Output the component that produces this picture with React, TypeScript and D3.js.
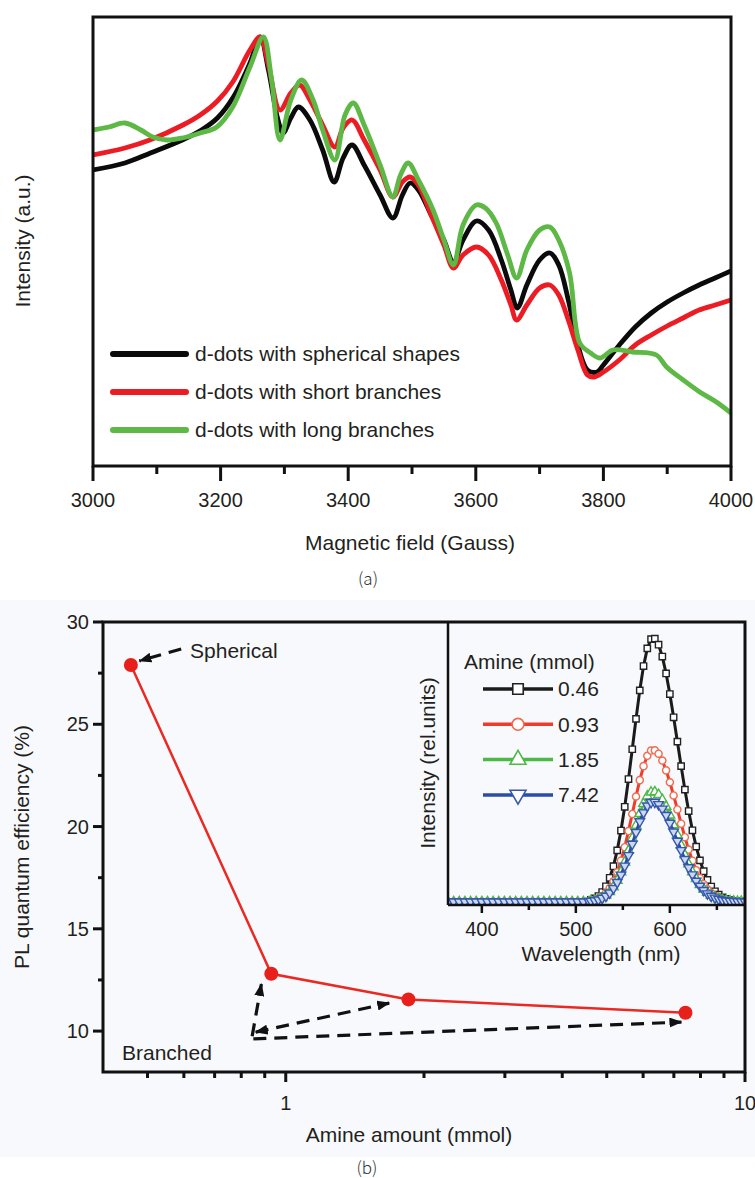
import { useEffect, useRef } from "react";
import * as d3 from "d3";

const WIDTH = 755;
const HEIGHT = 1178;
const SANS = "Arial, 'Liberation Sans', Helvetica, sans-serif";

// (a) EPR spectra, [field (Gauss), intensity (a.u.)]
const sphericalEpr: [number, number][] = [
  [3000, 296], [3050, 303], [3090, 313], [3140, 326], [3170, 336], [3195, 348], [3220, 369], [3246, 403], [3262, 429],
  [3275, 396], [3290, 346], [3298, 333], [3310, 348], [3322, 359], [3340, 346], [3360, 316], [3378, 284],
  [3392, 308], [3406, 321], [3425, 301], [3450, 271], [3470, 248], [3485, 271], [3497, 283], [3510, 276],
  [3530, 251], [3550, 226], [3565, 204], [3580, 226], [3601, 245], [3620, 236], [3640, 206], [3655, 176],
  [3665, 158], [3680, 181], [3700, 206], [3716, 213], [3730, 201], [3745, 166], [3760, 121], [3775, 96],
  [3790, 94], [3800, 101], [3825, 121], [3850, 139], [3875, 153], [3900, 164], [3925, 173], [3950, 181],
  [3975, 188], [4000, 195],
];
const shortBranchEpr: [number, number][] = [
  [3000, 311], [3050, 318], [3089, 326], [3141, 341], [3168, 351], [3195, 365], [3219, 384], [3246, 416], [3262, 429],
  [3275, 401], [3293, 356], [3310, 373], [3324, 381], [3340, 366], [3360, 341], [3379, 319], [3392, 338],
  [3406, 346], [3425, 326], [3450, 296], [3470, 269], [3485, 284], [3497, 289], [3510, 281], [3530, 251],
  [3550, 221], [3565, 198], [3580, 211], [3601, 219], [3620, 211], [3640, 186], [3655, 161], [3664, 146],
  [3680, 161], [3700, 178], [3716, 181], [3730, 171], [3745, 146], [3760, 116], [3775, 91], [3785, 89],
  [3800, 94], [3825, 106], [3850, 121], [3875, 131], [3900, 140], [3925, 148], [3950, 156], [3975, 161],
  [4000, 166],
];
const longBranchEpr: [number, number][] = [
  [3000, 336], [3025, 339], [3050, 343], [3075, 336], [3094, 329], [3116, 326], [3140, 328], [3168, 333],
  [3194, 339], [3219, 359], [3246, 399], [3267, 429], [3280, 386], [3293, 326], [3310, 366],
  [3327, 386], [3345, 366], [3360, 336], [3379, 306], [3395, 351], [3408, 363], [3425, 341], [3450, 301],
  [3470, 269], [3482, 291], [3494, 303], [3510, 286], [3533, 256], [3550, 226], [3565, 201], [3580, 241],
  [3601, 261], [3615, 258], [3632, 243], [3650, 211], [3664, 188], [3680, 216], [3700, 236], [3716, 239],
  [3730, 226], [3747, 193], [3763, 123], [3780, 113], [3795, 108], [3815, 116], [3846, 114], [3883, 111],
  [3899, 99], [3925, 86], [3951, 74], [3977, 64], [4000, 53],
];
const eprLegend = ["d-dots with spherical shapes", "d-dots with short branches", "d-dots with long branches"];
const eprColors = ["#0b0b0b", "#ec1c24", "#5db846"];
const fieldTicks = [3000, 3200, 3400, 3600, 3800, 4000];
const fieldMinorTicks = [3100, 3300, 3500, 3700, 3900];

// (b) PL quantum efficiency vs amine amount
const amineMmol = [0.46, 0.93, 1.85, 7.42];
const plQE = [27.9, 12.8, 11.55, 10.9];
const qeTicks = [10, 15, 20, 25, 30];
const qeMinorTicks = [12.5, 17.5, 22.5, 27.5];
const amineTicks = [1, 10];
const amineMinorTicks = [0.5, 0.6, 0.7, 0.8, 0.9, 2, 3, 4, 5, 6, 7, 8, 9];
// annotation arrows, [from, to] in data units
const sphericalArrow: [number, number][] = [[0.592, 28.68], [0.48, 28.1]];
const branchedArrows: [number, number][][] = [
  [[0.845, 9.75], [0.885, 12.3]],
  [[0.86, 9.95], [1.68, 11.37]],
  [[0.85, 9.62], [7.27, 10.44]],
];

// inset: PL spectra (rel. units)
const baselineNm = [364, 370, 376, 382, 388, 394, 400, 406, 412, 418, 424, 430, 436, 442, 448, 454, 460, 466, 472,
  478, 484, 490, 496, 502, 508, 514];
const insetNm = [516, 520, 524, 528, 532, 536, 540, 544, 548, 552, 556, 560, 564, 568, 572, 576, 580, 584, 588, 592,
  596, 600, 604, 608, 612, 616, 620, 624, 628, 632, 636, 640, 644, 648, 652, 656, 660, 664, 668, 672, 676, 680];
const pl046 = [0.007, 0.013, 0.022, 0.037, 0.059, 0.091, 0.135, 0.195, 0.27, 0.36, 0.465, 0.578, 0.693, 0.801, 0.893,
  0.96, 0.995, 0.997, 0.974, 0.929, 0.865, 0.787, 0.699, 0.607, 0.514, 0.425, 0.344, 0.271, 0.209, 0.157, 0.116, 0.083,
  0.058, 0.04, 0.027, 0.017, 0.011, 0.007, 0.004, 0.003, 0.002, 0.001];
const pl093 = [0.004, 0.007, 0.013, 0.021, 0.034, 0.052, 0.078, 0.112, 0.156, 0.207, 0.268, 0.333, 0.399, 0.461, 0.514,
  0.553, 0.573, 0.574, 0.561, 0.535, 0.498, 0.453, 0.403, 0.35, 0.296, 0.245, 0.198, 0.156, 0.12, 0.09, 0.067, 0.048,
  0.033, 0.023, 0.016, 0.01, 0.006, 0.004, 0.002, 0.002, 0.001, 0.001];
const pl185 = [0.003, 0.005, 0.009, 0.015, 0.025, 0.038, 0.056, 0.081, 0.113, 0.15, 0.194, 0.241, 0.289, 0.334, 0.372,
  0.4, 0.415, 0.416, 0.406, 0.387, 0.361, 0.328, 0.291, 0.253, 0.214, 0.177, 0.143, 0.113, 0.087, 0.065, 0.048, 0.035,
  0.024, 0.017, 0.011, 0.007, 0.005, 0.003, 0.002, 0.001, 0.001, 0];
const pl742 = [0.003, 0.005, 0.008, 0.014, 0.022, 0.034, 0.051, 0.074, 0.102, 0.136, 0.176, 0.219, 0.263, 0.304, 0.338,
  0.364, 0.377, 0.378, 0.369, 0.352, 0.328, 0.298, 0.265, 0.23, 0.195, 0.161, 0.13, 0.103, 0.079, 0.06, 0.044, 0.031,
  0.022, 0.015, 0.01, 0.006, 0.004, 0.003, 0.002, 0.001, 0.001, 0];
const insetLabels = ["0.46", "0.93", "1.85", "7.42"];
const nmTicks = [400, 500, 600];
const nmMinorTicks = [450, 550, 650];

export default function App() {
  const svgRef = useRef<SVGSVGElement | null>(null);

  useEffect(() => {
    if (!svgRef.current) return;
    const svg = d3.select(svgRef.current);
    svg.selectAll("*").remove();

    const defs = svg.append("defs");
    defs.append("marker").attr("id", "arrowHead").attr("viewBox", "0 0 13 10").attr("refX", 12).attr("refY", 5)
      .attr("markerWidth", 13).attr("markerHeight", 10).attr("markerUnits", "userSpaceOnUse")
      .attr("orient", "auto-start-reverse")
      .append("path").attr("d", "M0,0 L13,5 L0,10 z").attr("fill", "#111");

    const text = (g: any, x: number, y: number, str: string, size: number, anchor = "middle") =>
      g.append("text").attr("x", x).attr("y", y).attr("dy", "0.35em").attr("text-anchor", anchor)
        .style("font-family", SANS).style("font-size", `${size}px`).attr("fill", "#231f20").text(str);

    // ---------- (a) ----------
    const xA = d3.scaleLinear().domain([3000, 4000]).range([93, 731]);
    const yA = d3.scaleLinear().domain([0, 449]).range([466, 17]);
    const a = svg.append("g");
    defs.append("clipPath").attr("id", "clipA").append("rect").attr("x", 93).attr("y", 17).attr("width", 638).attr("height", 449);
    const lineA = d3.line<[number, number]>().x((d) => xA(d[0])).y((d) => yA(d[1])).curve(d3.curveCatmullRom.alpha(0.5));
    [sphericalEpr, shortBranchEpr, longBranchEpr].forEach((s, i) => {
      a.append("path").attr("d", lineA(s)).attr("fill", "none").attr("stroke", eprColors[i])
        .attr("stroke-width", 4.8).attr("stroke-linejoin", "round").attr("clip-path", "url(#clipA)");
    });
    a.append("rect").attr("x", 93).attr("y", 17).attr("width", 638).attr("height", 449)
      .attr("fill", "none").attr("stroke", "#111").attr("stroke-width", 3);
    fieldTicks.forEach((t) => {
      a.append("line").attr("x1", xA(t)).attr("x2", xA(t)).attr("y1", 466).attr("y2", 481).attr("stroke", "#111").attr("stroke-width", 3);
      text(a, xA(t), 500, String(t), 20);
    });
    fieldMinorTicks.forEach((t) => {
      a.append("line").attr("x1", xA(t)).attr("x2", xA(t)).attr("y1", 466).attr("y2", 474).attr("stroke", "#111").attr("stroke-width", 3);
    });
    eprLegend.forEach((label, i) => {
      const y = 354 + i * 38;
      a.append("line").attr("x1", 113).attr("x2", 186).attr("y1", y).attr("y2", y).attr("stroke", eprColors[i])
        .attr("stroke-width", 6).attr("stroke-linecap", "round");
      text(a, 195, y, label, 21, "start");
    });
    text(a, 410, 543, "Magnetic field (Gauss)", 21);
    text(a, 0, 0, "Intensity (a.u.)", 21).attr("transform", "translate(23,241) rotate(-90)");
    a.append("text").attr("x", 368).attr("y", 579).attr("dy", "0.35em").attr("text-anchor", "middle")
      .style("font-family", "'Noto Sans CJK SC', sans-serif").style("font-weight", 300).style("font-size", "17px")
      .attr("fill", "#333").text("(a)");

    // ---------- (b) ----------
    const b = svg.append("g");
    b.append("rect").attr("x", 0).attr("y", 600).attr("width", WIDTH).attr("height", 557).attr("fill", "#f8f9fc");
    const xB = d3.scaleLog().domain([0.4, 10]).range([103, 745]);
    const yB = d3.scaleLinear().domain([8, 30]).range([1072, 622]);

    // inset
    const xI = d3.scaleLinear().domain([364, 681]).range([448, 746]);
    const yI = d3.scaleLinear().domain([-0.012, 1.06]).range([905, 622]);
    defs.append("clipPath").attr("id", "clipI").append("rect").attr("x", 448).attr("y", 622).attr("width", 298).attr("height", 283);
    const lineI = d3.line<[number, number]>().x((d) => xI(d[0])).y((d) => yI(d[1]));
    const insetSeries = [
      { vals: pl046, line: "#1b1b1b", stroke: "#222", fill: "#fff", sym: d3.symbolSquare, size: 40 },
      { vals: pl093, line: "#ee3b2b", stroke: "#f26b4f", fill: "#fff", sym: d3.symbolCircle, size: 40 },
      { vals: pl185, line: "#4cb848", stroke: "#4cb848", fill: "#fff", sym: d3.symbolTriangle, size: 40 },
      { vals: pl742, line: "#2a4ea6", stroke: "#3557ad", fill: "#cdd8f0", sym: d3.symbolTriangle, size: 40, down: true },
    ];
    const gi = b.append("g").attr("clip-path", "url(#clipI)");
    insetSeries.forEach((s) => {
      const pts: [number, number][] = baselineNm.map((nm) => [nm, 0] as [number, number])
        .concat(insetNm.map((nm, i) => [nm, s.vals[i]] as [number, number]));
      gi.append("path").attr("d", lineI(pts)).attr("fill", "none").attr("stroke", s.line).attr("stroke-width", 3);
      const sym = d3.symbol().type(s.sym).size(s.size)();
      gi.selectAll(null).data(pts).enter().append("path").attr("d", sym)
        .attr("transform", (d) => `translate(${xI(d[0])},${yI(d[1])})${s.down ? " rotate(180)" : ""}`)
        .attr("fill", s.fill).attr("stroke", s.stroke).attr("stroke-width", 1.4);
    });
    b.append("line").attr("x1", 448).attr("x2", 448).attr("y1", 622).attr("y2", 905).attr("stroke", "#111").attr("stroke-width", 2.5);
    b.append("line").attr("x1", 448).attr("x2", 745).attr("y1", 905).attr("y2", 905).attr("stroke", "#111").attr("stroke-width", 2.5);
    nmTicks.forEach((t) => {
      b.append("line").attr("x1", xI(t)).attr("x2", xI(t)).attr("y1", 905).attr("y2", 913).attr("stroke", "#111").attr("stroke-width", 2.5);
      text(b, xI(t), 929, String(t), 20);
    });
    nmMinorTicks.forEach((t) => {
      b.append("line").attr("x1", xI(t)).attr("x2", xI(t)).attr("y1", 905).attr("y2", 910).attr("stroke", "#111").attr("stroke-width", 2.5);
    });
    text(b, 601, 954, "Wavelength (nm)", 21);
    text(b, 0, 0, "Intensity (rel.units)", 21).attr("transform", "translate(428,763) rotate(-90)");
    text(b, 464, 662, "Amine (mmol)", 21, "start");
    insetSeries.forEach((s, i) => {
      const y = 689 + i * 35.3;
      b.append("line").attr("x1", 483).attr("x2", 553).attr("y1", y).attr("y2", y).attr("stroke", s.line).attr("stroke-width", 3.5);
      const sym = d3.symbol().type(s.sym).size(110)();
      b.append("path").attr("d", sym).attr("transform", `translate(518,${y})${s.down ? " rotate(180)" : ""}`)
        .attr("fill", "#fff").attr("stroke", s.stroke).attr("stroke-width", 1.6);
      text(b, 558, y, insetLabels[i], 21, "start");
    });

    // main QE series
    const qePts: [number, number][] = amineMmol.map((m, i) => [m, plQE[i]]);
    b.append("path").attr("d", d3.line<[number, number]>().x((d) => xB(d[0])).y((d) => yB(d[1]))(qePts))
      .attr("fill", "none").attr("stroke", "#ea2a22").attr("stroke-width", 2.5);
    b.selectAll(null).data(qePts).enter().append("circle").attr("cx", (d) => xB(d[0])).attr("cy", (d) => yB(d[1]))
      .attr("r", 7).attr("fill", "#e8201b");

    // dashed arrows
    const arrow = (pts: [number, number][], both = false) =>
      b.append("line").attr("x1", xB(pts[0][0])).attr("y1", yB(pts[0][1])).attr("x2", xB(pts[1][0])).attr("y2", yB(pts[1][1]))
        .attr("stroke", "#111").attr("stroke-width", 3.2).attr("stroke-dasharray", "13,8")
        .attr("marker-end", "url(#arrowHead)").attr("marker-start", both ? "url(#arrowHead)" : null);
    arrow(sphericalArrow);
    branchedArrows.forEach((p, i) => arrow(p, i === 1));
    text(b, xB(0.619), yB(28.58), "Spherical", 21, "start");
    text(b, xB(0.44), yB(8.97), "Branched", 21, "start");

    // frame and axes
    b.append("rect").attr("x", 103).attr("y", 622).attr("width", 642).attr("height", 450)
      .attr("fill", "none").attr("stroke", "#111").attr("stroke-width", 3);
    qeTicks.forEach((t) => {
      b.append("line").attr("x1", 93).attr("x2", 103).attr("y1", yB(t)).attr("y2", yB(t)).attr("stroke", "#111").attr("stroke-width", 3);
      text(b, 89, yB(t), String(t), 20, "end");
    });
    qeMinorTicks.forEach((t) => {
      b.append("line").attr("x1", 98).attr("x2", 103).attr("y1", yB(t)).attr("y2", yB(t)).attr("stroke", "#111").attr("stroke-width", 3);
    });
    amineTicks.forEach((t) => {
      b.append("line").attr("x1", xB(t)).attr("x2", xB(t)).attr("y1", 1072).attr("y2", 1082).attr("stroke", "#111").attr("stroke-width", 3);
      text(b, xB(t), 1103, String(t), 20);
    });
    amineMinorTicks.forEach((t) => {
      b.append("line").attr("x1", xB(t)).attr("x2", xB(t)).attr("y1", 1072).attr("y2", 1078).attr("stroke", "#111").attr("stroke-width", 3);
    });
    text(b, 409, 1135, "Amine amount (mmol)", 21);
    text(b, 0, 0, "PL quantum efficiency (%)", 21).attr("transform", "translate(22,847) rotate(-90)");
    b.append("text").attr("x", 367).attr("y", 1168).attr("dy", "0.35em").attr("text-anchor", "middle")
      .style("font-family", "'Noto Sans CJK SC', sans-serif").style("font-weight", 300).style("font-size", "17px")
      .attr("fill", "#333").text("(b)");
  }, []);

  return (
    <div style={{ position: "absolute", left: 0, top: 0, width: WIDTH, height: HEIGHT, background: "#fff" }}>
      <svg ref={svgRef} width={WIDTH} height={HEIGHT} style={{ display: "block" }} />
    </div>
  );
}
